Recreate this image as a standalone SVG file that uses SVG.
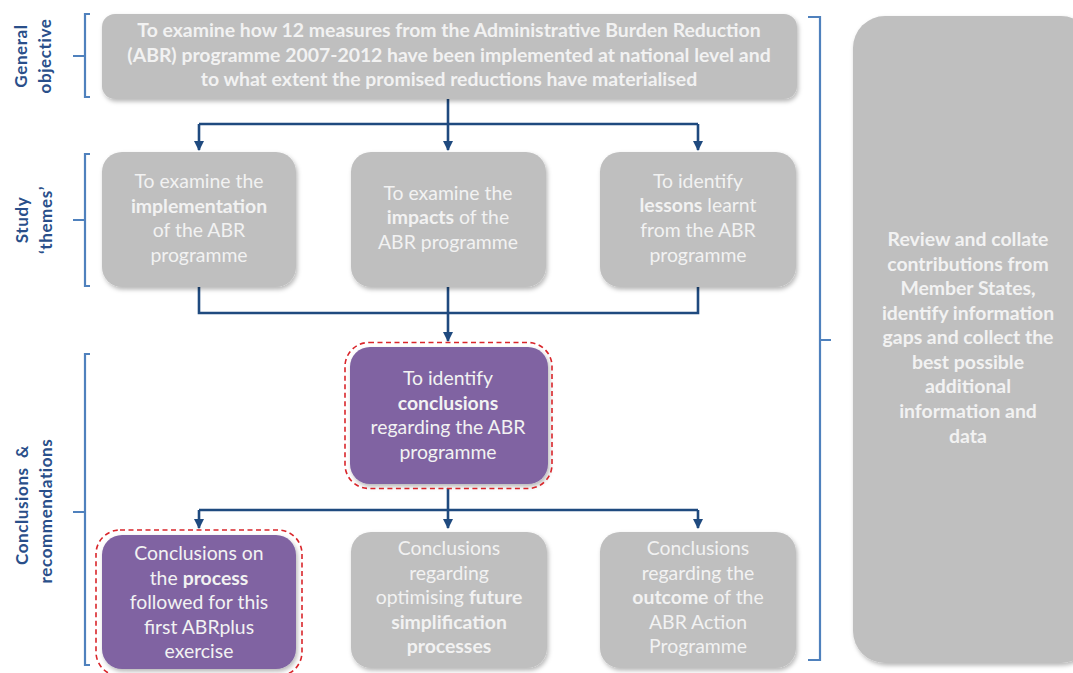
<svg xmlns="http://www.w3.org/2000/svg" width="1073" height="673" viewBox="0 0 1073 673">
  <style>
    .box { fill: #bfbfbf; }
    .hl { fill: #8064a2; }
    .sel { fill: none; stroke: #d9262b; stroke-width: 1.6; stroke-dasharray: 5 3.5; }
    .t { font-family: Lato, "Open Sans", sans-serif; font-size: 19.4px; fill: #f2f2f2; text-anchor: middle; }
    .b { font-weight: bold; }
    .brace { fill: none; stroke: #4f81bd; stroke-width: 2.2; }
    .lbl { font-family: Lato, "Open Sans", sans-serif; font-size: 17px; font-weight: bold; fill: #2a4f8a; text-anchor: middle; letter-spacing: 0.6px; }
    .con { fill: none; stroke: #1f4a7f; stroke-width: 2.6; }
  </style>
  <defs>
    <filter id="shadow" x="-10%" y="-10%" width="125%" height="130%">
      <feDropShadow dx="1.5" dy="2.5" stdDeviation="2" flood-color="#000" flood-opacity="0.28"/>
    </filter>
    <marker id="arrow" viewBox="0 0 10 10" refX="9" refY="5" markerWidth="4" markerHeight="4" orient="auto" markerUnits="strokeWidth">
      <path d="M0,0 L10,5 L0,10 Z" fill="#1f4a7f"/>
    </marker>
  </defs>

  <rect width="1073" height="673" fill="#ffffff"/>

  <!-- side labels -->
  <g id="label-general">
    <text class="lbl" transform="translate(27,56) rotate(-90)">General</text>
    <text class="lbl" transform="translate(51,56) rotate(-90)">objective</text>
  </g>
  <g id="label-study">
    <text class="lbl" transform="translate(28,220) rotate(-90)">Study</text>
    <text class="lbl" transform="translate(52,220) rotate(-90)">‘themes’</text>
  </g>
  <g id="label-conclusions">
    <text class="lbl" transform="translate(28,505) rotate(-90)" xml:space="preserve">Conclusions  &amp;</text>
    <text class="lbl" transform="translate(52,511) rotate(-90)">recommendations</text>
  </g>

  <!-- braces -->
  <g id="braces">
    <path class="brace" d="M90,14 H85 V97 H90 M85,56 H73"/>
    <path class="brace" d="M90,154 H85 V286 H90 M85,220 H73"/>
    <path class="brace" d="M90,354 H85 V665 H90 M85,512 H73"/>
    <path class="brace" d="M808,17 H820 V660 H808 M820,340 H831"/>
  </g>

  <!-- connectors -->
  <g id="connectors">
    <path class="con" d="M448,99 V124"/>
    <path class="con" d="M199,124 H698"/>
    <path class="con" d="M199,124 V150" marker-end="url(#arrow)"/>
    <path class="con" d="M448,124 V150" marker-end="url(#arrow)"/>
    <path class="con" d="M698,124 V150" marker-end="url(#arrow)"/>
    <path class="con" d="M199,287 V313 H698 V287"/>
    <path class="con" d="M448,287 V341" marker-end="url(#arrow)"/>
    <path class="con" d="M448,488 V510"/>
    <path class="con" d="M199,510 H698"/>
    <path class="con" d="M199,510 V528" marker-end="url(#arrow)"/>
    <path class="con" d="M448,510 V528" marker-end="url(#arrow)"/>
    <path class="con" d="M698,510 V528" marker-end="url(#arrow)"/>
  </g>

  <!-- general objective -->
  <g id="node-objective">
    <rect class="box" x="102" y="14" width="695" height="85" rx="13" filter="url(#shadow)"/>
    <text class="t b" x="449" y="37">To examine how 12 measures from the Administrative Burden Reduction</text>
    <text class="t b" x="449" y="62">(ABR) programme 2007-2012 have been implemented at national level and</text>
    <text class="t b" x="449" y="86">to what extent the promised reductions have materialised</text>
  </g>

  <!-- study themes -->
  <g id="node-implementation">
    <rect class="box" x="102" y="152" width="194" height="135" rx="20" filter="url(#shadow)"/>
    <text class="t" x="199" y="188">To examine the</text>
    <text class="t b" x="199" y="213">implementation</text>
    <text class="t" x="199" y="237">of the ABR</text>
    <text class="t" x="199" y="262">programme</text>
  </g>
  <g id="node-impacts">
    <rect class="box" x="351" y="152" width="195" height="135" rx="20" filter="url(#shadow)"/>
    <text class="t" x="448" y="200">To examine the</text>
    <text class="t" x="448" y="224"><tspan class="b">impacts</tspan> of the</text>
    <text class="t" x="448" y="249">ABR programme</text>
  </g>
  <g id="node-lessons">
    <rect class="box" x="600" y="152" width="196" height="135" rx="20" filter="url(#shadow)"/>
    <text class="t" x="698" y="188">To identify</text>
    <text class="t" x="698" y="212"><tspan class="b">lessons</tspan> learnt</text>
    <text class="t" x="698" y="237">from the ABR</text>
    <text class="t" x="698" y="262">programme</text>
  </g>

  <!-- conclusions -->
  <g id="node-conclusions">
    <rect class="hl" x="350" y="347" width="198" height="137" rx="20" filter="url(#shadow)"/>
    <rect class="sel" x="345" y="342.5" width="207" height="146" rx="24"/>
    <text class="t" x="448" y="385">To identify</text>
    <text class="t b" x="448" y="410">conclusions</text>
    <text class="t" x="448" y="434">regarding the ABR</text>
    <text class="t" x="448" y="459">programme</text>
  </g>

  <!-- conclusions row -->
  <g id="node-process">
    <rect class="hl" x="102" y="535" width="194" height="134" rx="20" filter="url(#shadow)"/>
    <rect class="sel" x="96" y="530" width="206" height="146" rx="24"/>
    <text class="t" x="199" y="560">Conclusions on</text>
    <text class="t" x="199" y="585">the <tspan class="b">process</tspan></text>
    <text class="t" x="199" y="609">followed for this</text>
    <text class="t" x="199" y="634">first ABRplus</text>
    <text class="t" x="199" y="658">exercise</text>
  </g>
  <g id="node-future">
    <rect class="box" x="351" y="532" width="196" height="136" rx="20" filter="url(#shadow)"/>
    <text class="t" x="449" y="555">Conclusions</text>
    <text class="t" x="449" y="580">regarding</text>
    <text class="t" x="449" y="604">optimising <tspan class="b">future</tspan></text>
    <text class="t b" x="449" y="629">simplification</text>
    <text class="t b" x="449" y="653">processes</text>
  </g>
  <g id="node-outcome">
    <rect class="box" x="600" y="532" width="196" height="136" rx="20" filter="url(#shadow)"/>
    <text class="t" x="698" y="555">Conclusions</text>
    <text class="t" x="698" y="580">regarding the</text>
    <text class="t" x="698" y="604"><tspan class="b">outcome</tspan> of the</text>
    <text class="t" x="698" y="629">ABR Action</text>
    <text class="t" x="698" y="653">Programme</text>
  </g>

  <!-- data collection -->
  <g id="node-review">
    <rect class="box" x="853" y="16" width="240" height="647" rx="32" filter="url(#shadow)"/>
    <text class="t b" x="968" y="246">Review and collate</text>
    <text class="t b" x="968" y="271">contributions from</text>
    <text class="t b" x="968" y="295">Member States,</text>
    <text class="t b" x="968" y="320">identify information</text>
    <text class="t b" x="968" y="344">gaps and collect the</text>
    <text class="t b" x="968" y="369">best possible</text>
    <text class="t b" x="968" y="393">additional</text>
    <text class="t b" x="968" y="418">information and</text>
    <text class="t b" x="968" y="443">data</text>
  </g>
</svg>
